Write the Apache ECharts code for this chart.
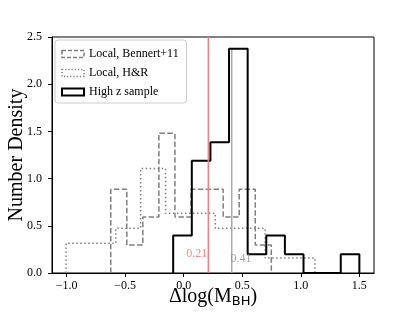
<!DOCTYPE html>
<html>
<head>
<meta charset="utf-8">
<script src="https://cdn.jsdelivr.net/npm/echarts@6/dist/echarts.min.js"></script>
<style>html,body{margin:0;padding:0;background:#fff}#c{width:415px;height:312px}</style>
</head>
<body>
<div id="c"></div>
<script>
// ---- data ----
const bennertEdges = [-0.623, -0.486, -0.349, -0.212, -0.075, 0.062, 0.199, 0.337, 0.474, 0.611, 0.748];
const bennertDensity = [0.888, 0.296, 0.592, 1.48, 0.592, 0.888, 0.888, 0.592, 0.888, 0.296];
const hrEdges = [-1.005, -0.793, -0.580, -0.368, -0.155, 0.057, 0.270, 0.482, 0.695, 0.907, 1.12];
const hrDensity = [0.316, 0.316, 0.474, 1.106, 0.632, 0.632, 0.474, 0.474, 0.158, 0.158];
const highZEdges = [-0.09, 0.069, 0.228, 0.387, 0.546, 0.705, 0.864, 1.023, 1.182, 1.341, 1.5];
const highZDensity = [0.396, 1.188, 1.386, 2.376, 0.198, 0.396, 0.198, 0, 0, 0.198];
const redLineX = 0.21;
const grayLineX = 0.41;
const grayLineTop = 2.375;
const xTicks = [-1.0, -0.5, 0.0, 0.5, 1.0, 1.5];
const yTicks = [0.0, 0.5, 1.0, 1.5, 2.0, 2.5];
const seriesNames = ['Local, Bennert+11', 'Local, H&R', 'High z sample'];

function stepPoints(edges, h) {
  const pts = [[edges[0], 0]];
  for (let i = 0; i < h.length; i++) {
    pts.push([edges[i], h[i]], [edges[i + 1], h[i]]);
  }
  pts.push([edges[edges.length - 1], 0]);
  return pts;
}
const fmt = v => (v < 0 ? '\u2212' : '') + Math.abs(v).toFixed(1);
const serif = 'Liberation Serif';

const chart = echarts.init(document.getElementById('c'), null, {renderer: 'canvas'});
chart.setOption({
  animation: false,
  grid: {left: 52, top: 37, width: 322, height: 236, show: true, borderColor: '#000', borderWidth: 1,
         backgroundColor: 'transparent', containLabel: false, outerBoundsMode: 'none'},
  legend: {
    left: 55, top: 40, orient: 'vertical',
    padding: [8, 8, 5, 6], itemGap: 7, itemWidth: 22, itemHeight: 7,
    backgroundColor: 'rgba(255,255,255,0.8)', borderColor: '#cccccc', borderWidth: 1, borderRadius: 3,
    textStyle: {fontFamily: serif, fontSize: 12, color: '#000', lineHeight: 12},
    data: [
      {name: seriesNames[0], icon: 'rect', itemStyle: {color: 'rgba(0,0,0,0)', borderColor: '#808080', borderWidth: 1.5, borderType: [4, 2]}},
      {name: seriesNames[1], icon: 'rect', itemStyle: {color: 'rgba(0,0,0,0)', borderColor: '#808080', borderWidth: 1.5, borderType: [1.2, 2]}},
      {name: seriesNames[2], icon: 'rect', itemStyle: {color: 'rgba(0,0,0,0)', borderColor: '#000', borderWidth: 2, borderType: 'solid'}}
    ]
  },
  xAxis: {
    type: 'value', min: -1.125, max: 1.625,
    axisLine: {show: true, onZero: false, lineStyle: {color: '#000', width: 1}},
    axisTick: {show: true, inside: false, length: 4, customValues: xTicks, lineStyle: {color: '#000'}},
    axisLabel: {customValues: xTicks, formatter: fmt, fontFamily: serif, fontSize: 12, color: '#000', margin: 7},
    splitLine: {show: false},
    name: '{a|\u0394log(M}{b|BH}{a|)}', nameLocation: 'middle', nameGap: 13, nameMoveOverlap: false,
    nameTextStyle: {rich: {
      a: {fontFamily: serif, fontSize: 20, color: '#000', lineHeight: 22},
      b: {fontFamily: 'DejaVu Sans', fontSize: 13, color: '#000', lineHeight: 22, padding: [9, 0, 0, 0]}
    }}
  },
  yAxis: {
    type: 'value', min: 0, max: 2.5, interval: 0.5,
    axisLine: {show: true, onZero: false, lineStyle: {color: '#000', width: 1}},
    axisTick: {show: true, inside: false, length: 4, lineStyle: {color: '#000'}},
    axisLabel: {formatter: fmt, fontFamily: serif, fontSize: 12, color: '#000', margin: 10},
    splitLine: {show: false},
    name: 'Number Density', nameLocation: 'middle', nameGap: 25, nameMoveOverlap: false,
    nameTextStyle: {fontFamily: serif, fontSize: 20, color: '#000'}
  },
  series: [
    {name: seriesNames[0], type: 'line', showSymbol: false, silent: true, z: 2,
     data: stepPoints(bennertEdges, bennertDensity),
     lineStyle: {color: '#808080', width: 1.5, type: [5.5, 2.4]}, itemStyle: {color: '#808080'}},
    {name: seriesNames[1], type: 'line', showSymbol: false, silent: true, z: 2,
     data: stepPoints(hrEdges, hrDensity),
     lineStyle: {color: '#808080', width: 1.5, type: [1.5, 2.5]}, itemStyle: {color: '#808080'}},
    {name: 'grayline', type: 'line', showSymbol: false, silent: true, z: 2,
     data: [[grayLineX, 0], [grayLineX, grayLineTop]],
     lineStyle: {color: '#aaaaaa', width: 1.5}},
    {name: seriesNames[2], type: 'line', showSymbol: false, silent: true, z: 3,
     data: stepPoints(highZEdges, highZDensity),
     lineStyle: {color: '#000', width: 2}, itemStyle: {color: '#000'}},
    {name: 'redline', type: 'line', showSymbol: false, silent: true, z: 4,
     data: [[redLineX, 0], [redLineX, 2.5]],
     lineStyle: {color: '#f08080', width: 1.5}},
    {name: 'labels', type: 'scatter', symbolSize: 0, silent: true, z: 5,
     data: [
       {value: [redLineX - 0.01, 0.2], label: {show: true, formatter: redLineX.toFixed(2), position: 'left', distance: 0, color: '#f07070', fontFamily: serif, fontSize: 12}},
       {value: [grayLineX - 0.01, 0.15], label: {show: true, formatter: grayLineX.toFixed(2), position: 'right', distance: 0, color: '#8c8c8c', fontFamily: serif, fontSize: 12}}
     ]}
  ]
});
</script>
</body>
</html>
